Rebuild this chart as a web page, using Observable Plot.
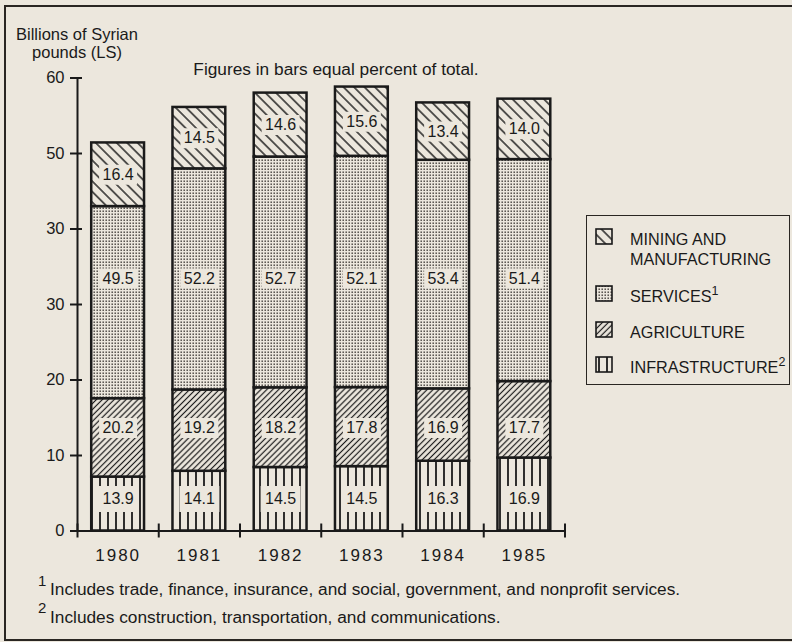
<!DOCTYPE html>
<html><head><meta charset="utf-8">
<script src="https://cdn.jsdelivr.net/npm/d3@7"></script>
<script src="https://cdn.jsdelivr.net/npm/@observablehq/plot@0.6"></script>
<style>
html,body{margin:0;padding:0;background:#ece7dd;}
#wrap{position:relative;width:792px;height:642px;overflow:hidden;background:#ece7dd;font-family:"Liberation Sans",Arial,Helvetica,sans-serif;color:#1a1a1a;}
.abs{position:absolute;white-space:nowrap;}
#border{position:absolute;left:4px;top:5px;width:820px;height:636px;border:2px solid #2a2622;box-sizing:border-box;}
#legendbox{position:absolute;left:586px;top:215px;width:204px;height:170px;border:1.5px solid #2a2622;box-sizing:border-box;}
.lg{font-size:16.2px;line-height:20px;}
.sw{position:absolute;}
.sup{font-size:12.5px;position:relative;top:-7px;}
.fn{font-size:17.3px;line-height:17px;}
.yl{font-size:16.5px;line-height:18px;}
.fs{font-size:15px;line-height:17px;}
</style></head>
<body>
<svg width="0" height="0" style="position:absolute">
<defs>
 <pattern id="p-mining" patternUnits="userSpaceOnUse" width="7.4" height="7.4" patternTransform="rotate(-45)">
  <rect width="7.4" height="7.4" fill="#ece7dd"/>
  <line x1="3.7" y1="-1" x2="3.7" y2="8.4" stroke="#1a1a1a" stroke-width="1.4"/>
 </pattern>
 <pattern id="p-agri" patternUnits="userSpaceOnUse" width="4.2" height="4.2" patternTransform="rotate(45)">
  <rect width="4.2" height="4.2" fill="#ece7dd"/>
  <line x1="2.1" y1="-1" x2="2.1" y2="5.2" stroke="#1a1a1a" stroke-width="1.2"/>
 </pattern>
 <pattern id="p-serv" patternUnits="userSpaceOnUse" width="3" height="3">
  <rect width="3" height="3" fill="#ece7dd"/>
  <rect x="0.5" y="0.5" width="1.4" height="1.4" fill="#3a3632"/>
 </pattern>
 <pattern id="p-infra" patternUnits="userSpaceOnUse" width="8" height="8">
  <rect width="8" height="8" fill="#ece7dd"/>
  <line x1="4" y1="-1" x2="4" y2="9" stroke="#1a1a1a" stroke-width="1.8"/>
 </pattern>
</defs>
</svg>
<div id="wrap">
 <div id="border"></div>
 <div id="chart" style="position:absolute;left:0;top:0"></div>
 <div class="abs yl" style="left:-23px;top:25.3px;width:200px;text-align:center;">Billions of Syrian<br>pounds (LS)</div>
 <div class="abs fn" style="left:136px;top:60.6px;width:400px;text-align:center;">Figures in bars equal percent of total.</div>
 <div id="legendbox"></div>
 <div id="legend"></div>
 <div class="abs fs" style="left:38px;top:572.3px;">1</div>
 <div class="abs fn" style="left:50px;top:580.6px;">Includes trade, finance, insurance, and social, government, and nonprofit services.</div>
 <div class="abs fs" style="left:38px;top:599.3px;">2</div>
 <div class="abs fn" style="left:50px;top:608.6px;">Includes construction, transportation, and communications.</div>
</div>
<script>
// ---- data ----
const years = ["1980", "1981", "1982", "1983", "1984", "1985"];
const totals = [51.4, 56.1, 58.0, 58.8, 56.7, 57.2]; // billions LS
const pctInfrastructure = [13.9, 14.1, 14.5, 14.5, 16.3, 16.9];
const pctAgriculture = [20.2, 19.2, 18.2, 17.8, 16.9, 17.7];
const pctServices = [49.5, 52.2, 52.7, 52.1, 53.4, 51.4];
const pctMining = [16.4, 14.5, 14.6, 15.6, 13.4, 14.0];
const yTicks = [0, 10, 20, 30, 40, 50, 60];
const yTickLabels = ["0", "10", "20", "30", "30", "50", "60"];
const legendLabels = [
  {key: "mining", html: "MINING AND<br>MANUFACTURING"},
  {key: "serv", html: "SERVICES<span class=\"sup\">1</span>"},
  {key: "agri", html: "AGRICULTURE"},
  {key: "infra", html: "INFRASTRUCTURE<span class=\"sup\">2</span>"}
];

const bg = "#ece7dd";
const ink = "#1a1a1a";
const sectorDefs = [
  {key: "infra", pct: pctInfrastructure, pattern: "p-infra"},
  {key: "agri", pct: pctAgriculture, pattern: "p-agri"},
  {key: "serv", pct: pctServices, pattern: "p-serv"},
  {key: "mining", pct: pctMining, pattern: "p-mining"}
];

const segs = [];
years.forEach((yr, i) => {
  let base = 0;
  sectorDefs.forEach(s => {
    const v = totals[i] * s.pct[i] / 100;
    segs.push({i, year: yr, key: s.key, pct: s.pct[i], y1: base, y2: base + v, mid: base + v / 2});
    base += v;
  });
});
// labels of lower three sectors sit in a common row
const rowY = new Map(sectorDefs.map(s => [s.key, d3.mean(segs.filter(d => d.key === s.key), d => d.mid)]));
segs.forEach(d => { d.ly = d.key === "mining" ? d.mid : rowY.get(d.key); });

const pad = 0.175;
const box = (w, h) => ({draw(ctx) { ctx.rect(-w / 2, -h / 2, w, h); }});

const W = 792, H = 580;
const plot = Plot.plot({
  width: W, height: H,
  marginLeft: 77, marginRight: W - 564.5, marginTop: 77.5, marginBottom: H - 530.5,
  x: {domain: [0, years.length]},
  y: {domain: [0, 60]},
  style: {background: "transparent", color: ink, fontFamily: "'Liberation Sans', Arial, Helvetica, sans-serif", overflow: "visible"},
  marks: [
    ...sectorDefs.map(s => Plot.rectY(segs.filter(d => d.key === s.key), {
      x1: d => d.i + pad, x2: d => d.i + 1 - pad, y1: "y1", y2: "y2",
      fill: `url(#${s.pattern})`, stroke: ink, strokeWidth: 2.5
    })),
    Plot.dot(segs.filter(d => d.key !== "infra"), {x: d => d.i + 0.5, y: "ly", symbol: box(38, 20), fill: bg}),
    Plot.dot(segs.filter(d => d.key === "infra"), {x: d => d.i + 0.5, y: "ly", symbol: box(40, 26), fill: bg}),
    Plot.text(segs, {x: d => d.i + 0.5, y: "ly", text: d => d.pct.toFixed(1), fontSize: 16, fill: ink}),
    Plot.frame({anchor: "left", stroke: ink, strokeWidth: 2}),
    Plot.ruleY([0], {stroke: ink, strokeWidth: 2}),
    Plot.axisX({ticks: d3.range(years.length + 1), tickSize: 14, dy: -7, fill: "none", stroke: ink, strokeWidth: 2, label: null}),
    Plot.axisX({ticks: years.map((_, i) => i + 0.5), tickSize: 0, tickPadding: 17.5, tickFormat: v => years[Math.floor(v)], fontSize: 17, label: null}),
    Plot.axisY({ticks: yTicks, tickSize: 12, dx: 5, fill: "none", stroke: ink, strokeWidth: 2, label: null}),
    Plot.axisY({ticks: yTicks, tickSize: 0, tickPadding: 13, tickFormat: v => yTickLabels[yTicks.indexOf(v)], fontSize: 16.5, label: null})
  ]
});
d3.select(plot).selectAll("[aria-label='x-axis tick label'] text").attr("letter-spacing", "2px");
document.getElementById("chart").appendChild(plot);

// legend
const legendTops = [245, 302, 338, 373]; // text baselines
const leg = d3.select("#legend");
legendLabels.forEach((l, k) => {
  const s = sectorDefs.find(d => d.key === l.key);
  const base = legendTops[k];
  leg.append("div").attr("class", "abs lg").style("left", "630px").style("top", (base - 15.9) + "px").html(l.html);
  const sv = leg.append("svg").attr("class", "sw").attr("width", 18).attr("height", 17)
    .style("left", "595px").style("top", (base - 17.5) + "px");
  sv.append("rect").attr("x", 1).attr("y", 1).attr("width", 16).attr("height", 15)
    .attr("fill", `url(#${s.pattern})`).attr("stroke", ink).attr("stroke-width", 1.6);
});
</script>
</body></html>
